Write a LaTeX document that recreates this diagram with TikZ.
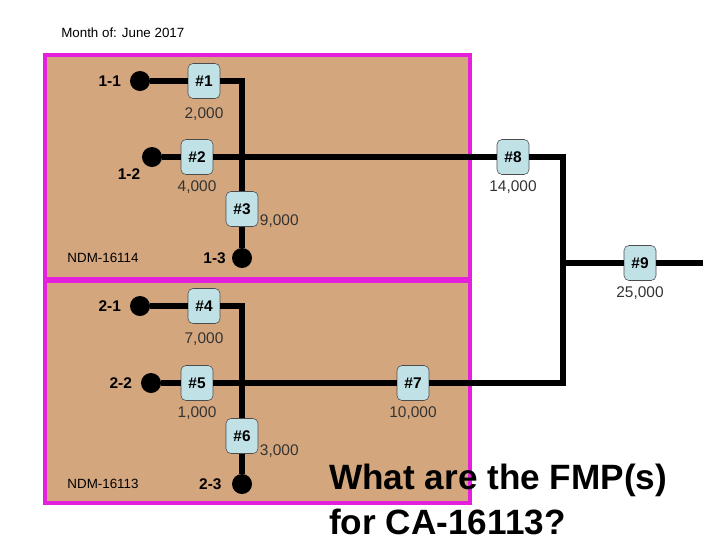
\documentclass[tikz,border=0pt]{standalone}
\usepackage{fontspec}
\setmainfont{Liberation Sans}
\usetikzlibrary{positioning}
\definecolor{leasefill}{RGB}{212,166,125}
\definecolor{leaseedge}{RGB}{228,32,220}
\definecolor{meterfill}{RGB}{192,226,230}

\begin{document}
\begin{tikzpicture}[
			x=0.025cm,
			y=-0.025cm,
			node distance=4pt,
			lease/.style={
				draw=leaseedge,
				fill=leasefill,
				line width=2.6pt
			},
			meter/.style={
				draw=black!70,
				fill=meterfill,
				rounded corners=3.5pt,
				minimum width=0.8cm,
				minimum height=0.875cm,
				inner sep=0pt,
				font=\fontsize{11}{13}\selectfont\bfseries
			},
			well/.style={
				circle,
				fill=black,
				minimum size=0.5cm,
				inner sep=0pt
			},
			tag/.style={
				font=\fontsize{11}{13}\selectfont\bfseries,
				inner sep=1pt
			},
			vol/.style={
				font=\fontsize{11}{13}\selectfont,
				text=black!80,
				inner sep=1pt
			},
			note/.style={
				font=\fontsize{9.5}{11}\selectfont,
				inner sep=0pt
			},
			pipe/.style={
				line width=3.6pt
			}
			]
			\useasboundingbox (0,0) rectangle (720,540);
			
			% Leases
			\draw[lease] (45,55) rectangle (470,279);
			\draw[lease] (45,281) rectangle (470,503);
			\node[note,anchor=west] (month) at (61,33) {Month of: June 2017};
			\node[note] (ndm14) at (103,258) {NDM-16114};
			\node[note] (ndm13) at (103,484) {NDM-16113};
			
			% Wells
			\node[well] (d11) at (140,81) {};
			\node[well] (d12) at (152,157) {};
			\node[well] (d13) at (242,258) {};
			\node[well] (d21) at (140,306) {};
			\node[well] (d22) at (151,383) {};
			\node[well] (d23) at (242,484) {};
			\node[tag,left=5pt of d11] (t11) {1-1};
			\node[tag,below left=2pt and 2pt of d12] (t12) {1-2};
			\node[tag,left=3pt of d13] (t13) {1-3};
			\node[tag,left=5pt of d21] (t21) {2-1};
			\node[tag,left=5pt of d22] (t22) {2-2};
			\node[tag,left=6pt of d23] (t23) {2-3};
			
			% Meters
			\node[meter] (m1) at (204,81) {\#1};
			\node[meter] (m2) at (197,157) {\#2};
			\node[meter] (m3) at (242,209) {\#3};
			\node[meter] (m4) at (204,306) {\#4};
			\node[meter] (m5) at (197,383) {\#5};
			\node[meter] (m6) at (242,436) {\#6};
			\node[meter] (m7) at (413,383) {\#7};
			\node[meter] (m8) at (513,157) {\#8};
			\node[meter] (m9) at (640,263) {\#9};
			
			% Volumes
			\node[vol,below=5pt of m1] (v1) {2,000};
			\node[vol,below=3pt of m2] (v2) {4,000};
			\node[vol,right=0pt of m3.south east,yshift=4pt] (v3) {9,000};
			\node[vol,below=5pt of m4] (v4) {7,000};
			\node[vol,below=3pt of m5] (v5) {1,000};
			\node[vol,right=0pt of m6.south east,yshift=2pt] (v6) {3,000};
			\node[vol,below=3pt of m7] (v7) {10,000};
			\node[vol,below=3pt of m8] (v8) {14,000};
			\node[vol,below=3pt of m9] (v9) {25,000};
			
			% Junctions
			\coordinate (jb) at (563,383);
			\coordinate (jm) at (563,263);
			\coordinate (tail) at (703,263);
			
			% Lines
			\draw[pipe] (d11) -- (m1) -| (m3);
			\draw[pipe] (m3) -- (d13);
			\draw[pipe] (d12) -- (m2) -- (m8) -| (jb) -- (m7) -- (m5) -- (d22);
			\draw[pipe] (d21) -- (m4) -| (m6);
			\draw[pipe] (m6) -- (d23);
			\draw[pipe] (jm) -- (m9) -- (tail);
			
			% Question
			\node[align=left,anchor=base west,inner sep=0pt,
			font=\fontsize{25}{31.5}\selectfont\bfseries] (ask) at (329,534)
			{What are the FMP(s)\\for CA-16113?};
			
		\end{tikzpicture}
\end{document}
